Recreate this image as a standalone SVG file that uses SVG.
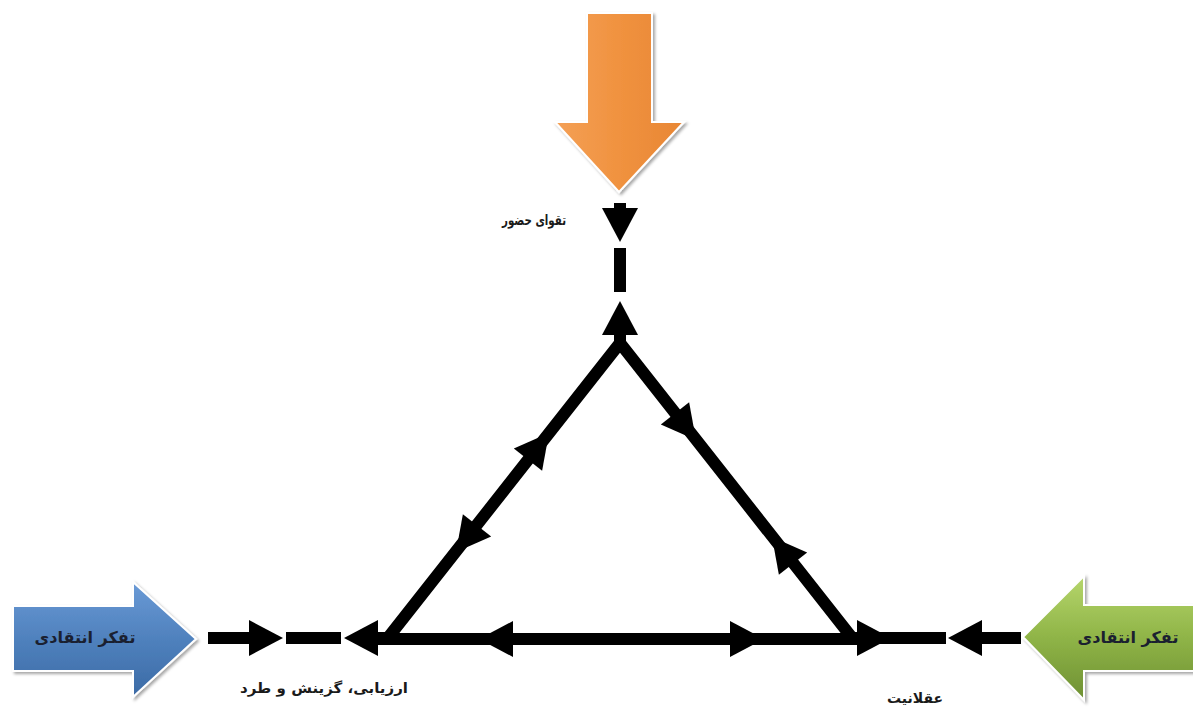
<svg xmlns="http://www.w3.org/2000/svg" xmlns:xlink="http://www.w3.org/1999/xlink" width="1193" height="710" viewBox="0 0 1193 710">
<style>
.ln{stroke:#000;stroke-width:12;fill:none;stroke-linejoin:miter}
.ah{fill:#000}
.lbl{font-family:"DejaVu Sans",sans-serif;font-weight:bold;font-size:14px;fill:#1a1a1a}
.big{font-family:"DejaVu Sans",sans-serif;font-weight:bold;font-size:16px;fill:#1a2030}
</style>
<defs>
<polygon id="ah" points="0,0 -34,-18 -34,18"/>
<linearGradient id="gBlue" x1="0" y1="0" x2="0" y2="1">
<stop offset="0" stop-color="#6a9ad6"/><stop offset="0.5" stop-color="#4f81bd"/><stop offset="1" stop-color="#3b6aa5"/>
</linearGradient>
<linearGradient id="gGreen" x1="0" y1="0" x2="0" y2="1">
<stop offset="0" stop-color="#b6d66c"/><stop offset="0.5" stop-color="#8fb447"/><stop offset="1" stop-color="#6e9033"/>
</linearGradient>
<linearGradient id="gOrange" x1="0" y1="0" x2="1" y2="0">
<stop offset="0" stop-color="#f4a056"/><stop offset="0.5" stop-color="#f0923f"/><stop offset="1" stop-color="#e88634"/>
</linearGradient>
<filter id="sh" x="-10%" y="-10%" width="130%" height="130%">
<feDropShadow dx="2" dy="2" stdDeviation="1.5" flood-color="#000" flood-opacity="0.35"/>
</filter>
</defs>

<g id="orange-arrow">
<polygon points="587,13 652,13 652,122 684,122 619,192 555,122 587,122" fill="url(#gOrange)" stroke="#ffffff" stroke-width="2" filter="url(#sh)"/>
</g>

<g id="blue-arrow">
<polygon points="13,606 133,606 133,582 196,639 133,697 133,671 13,671" fill="url(#gBlue)" stroke="#ffffff" stroke-width="2" filter="url(#sh)"/>
<text class="big" x="85" y="643" text-anchor="middle" direction="rtl">تفکر انتقادی</text>
</g>

<g id="green-arrow">
<polygon points="1023,637 1084,576 1084,605 1195,605 1195,671 1084,671 1084,700" fill="url(#gGreen)" stroke="#ffffff" stroke-width="2" filter="url(#sh)"/>
<text class="big" x="1128" y="643" text-anchor="middle" direction="rtl">تفکر انتقادی</text>
</g>

<g id="label-taqva">
<text class="lbl" x="534" y="225" text-anchor="middle" direction="rtl" textLength="64" lengthAdjust="spacingAndGlyphs">تقوای حضور</text>
</g>
<g id="label-arzyabi">
<text class="lbl" x="324" y="693" text-anchor="middle" direction="rtl" textLength="168" lengthAdjust="spacingAndGlyphs">ارزیابی، گزینش و طرد</text>
</g>
<g id="label-aqlaniyat">
<text class="lbl" x="915" y="703" text-anchor="middle" direction="rtl">عقلانیت</text>
</g>

<g id="connectors">
<polygon class="ln" points="387,639 620,343 853,639"/>
<line class="ln" x1="620" y1="345" x2="620" y2="328"/>
<use xlink:href="#ah" class="ah" transform="translate(620,301) rotate(-90)"/>
<use xlink:href="#ah" class="ah" transform="translate(549,433) rotate(-51.8)"/>
<use xlink:href="#ah" class="ah" transform="translate(456,552) rotate(128.2)"/>
<use xlink:href="#ah" class="ah" transform="translate(696,440) rotate(51.8)"/>
<use xlink:href="#ah" class="ah" transform="translate(772,537) rotate(-128.2)"/>
<use xlink:href="#ah" class="ah" transform="translate(479,639) rotate(180)"/>
<use xlink:href="#ah" class="ah" transform="translate(764,639) rotate(0)"/>
<line class="ln" x1="208" y1="638" x2="256" y2="638"/>
<use xlink:href="#ah" class="ah" transform="translate(283,638)"/>
<line class="ln" x1="286" y1="638" x2="341" y2="638"/>
<use xlink:href="#ah" class="ah" transform="translate(344,638) rotate(180)"/>
<line class="ln" x1="372" y1="638" x2="390" y2="638"/>
<line class="ln" x1="850" y1="638" x2="946" y2="638"/>
<use xlink:href="#ah" class="ah" transform="translate(891,638)"/>
<use xlink:href="#ah" class="ah" transform="translate(948,638) rotate(180)"/>
<line class="ln" x1="975" y1="638" x2="1021" y2="638"/>
<line class="ln" x1="620" y1="203" x2="620" y2="216"/>
<use xlink:href="#ah" class="ah" transform="translate(620,242) rotate(90)"/>
<rect x="614" y="248" width="12" height="44" fill="#000"/>
</g>
</svg>
